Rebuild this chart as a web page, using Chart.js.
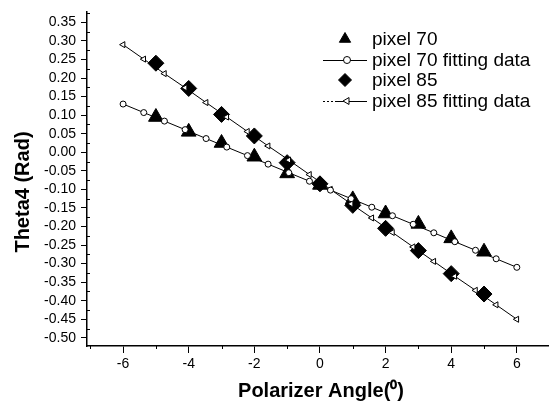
<!DOCTYPE html>
<html>
<head>
<meta charset="utf-8">
<script src="https://cdn.jsdelivr.net/npm/chart.js@4.4.0/dist/chart.umd.min.js"></script>
<style>
  html, body { margin: 0; padding: 0; background: #fff; }
</style>
</head>
<body>
<canvas id="theta-chart" width="549" height="403"></canvas>
<script>
// measured points (polarizer angle in degrees)
var measuredAngles = [-5, -4, -3, -2, -1, 0, 1, 2, 3, 4, 5];
var pixel70 = [0.095, 0.055, 0.025, -0.012, -0.057, -0.088, -0.127, -0.165, -0.193, -0.232, -0.268];
var pixel85 = [0.240, 0.172, 0.102, 0.044, -0.028, -0.085, -0.143, -0.205, -0.265, -0.327, -0.382];

// fitting curves
var fitAngles = [-6, -5.37, -4.74, -4.11, -3.47, -2.84, -2.21, -1.58, -0.95, -0.32,
                 0.32, 0.95, 1.58, 2.21, 2.84, 3.47, 4.11, 4.74, 5.37, 6];
var pixel70Fit = [0.130, 0.107, 0.084, 0.061, 0.037, 0.014, -0.009, -0.032, -0.055, -0.078,
                  -0.102, -0.125, -0.148, -0.171, -0.194, -0.217, -0.241, -0.264, -0.287, -0.310];
var pixel85Fit = [0.290, 0.251, 0.212, 0.174, 0.134, 0.095, 0.056, 0.017, -0.021, -0.060,
                  -0.100, -0.139, -0.177, -0.216, -0.255, -0.294, -0.334, -0.372, -0.411, -0.450];

var xTickValues = [-6, -4, -2, 0, 2, 4, 6];
var yTickValues = [-0.50, -0.45, -0.40, -0.35, -0.30, -0.25, -0.20, -0.15, -0.10, -0.05,
                   0.00, 0.05, 0.10, 0.15, 0.20, 0.25, 0.30, 0.35];

function pairs(xs, ys) {
    return xs.map(function (x, i) { return { x: x, y: ys[i] }; });
}

/* minor ticks, axis titles and the legend box */
var extras = {
    id: 'extras',
    afterDraw: function (chart) {
        var ctx = chart.ctx;
        var area = chart.chartArea;
        var xs = chart.scales.x, ys = chart.scales.y;
        ctx.save();
        ctx.strokeStyle = '#000';
        ctx.lineWidth = 1;
        ctx.beginPath();
        for (var v = -7; v <= 7; v += 2) {
            var px = Math.round(xs.getPixelForValue(v)) + 0.5;
            if (px < area.left || px > area.right) continue;
            ctx.moveTo(px, area.bottom);
            ctx.lineTo(px, area.bottom + 3);
        }
        for (var k = -21; k <= 15; k += 2) {
            var py = Math.round(ys.getPixelForValue(k * 0.025)) + 0.5;
            if (py < area.top || py > area.bottom) continue;
            ctx.moveTo(area.left, py);
            ctx.lineTo(area.left + 3, py);
        }
        ctx.stroke();

        // axis titles
        ctx.fillStyle = '#000';
        ctx.font = 'bold 20px "Liberation Sans", Arial, sans-serif';
        ctx.textAlign = 'center';
        ctx.textBaseline = 'alphabetic';
        ctx.fillText('Polarizer Angle(\u2070)', 321, 397);
        ctx.save();
        ctx.translate(29, 192);
        ctx.rotate(-Math.PI / 2);
        ctx.fillText('Theta4 (Rad)', 0, 0);
        ctx.restore();

        // legend
        var rows = [39, 60, 80, 101];
        var mx = 345;
        ctx.font = '19px "Liberation Sans", Arial, sans-serif';
        ctx.textAlign = 'left';
        ctx.textBaseline = 'middle';
        chart.data.datasets.forEach(function (ds, i) {
            var y = rows[i];
            if (ds.showLine) {
                ctx.strokeStyle = '#000';
                ctx.lineWidth = 1;
                if (i === 3) {
                    // first part of this sample line looks dotted in the original
                    ctx.setLineDash([2, 2]);
                    ctx.beginPath();
                    ctx.moveTo(323, y + 0.5);
                    ctx.lineTo(337, y + 0.5);
                    ctx.stroke();
                    ctx.setLineDash([]);
                    ctx.beginPath();
                    ctx.moveTo(337, y + 0.5);
                } else {
                    ctx.beginPath();
                    ctx.moveTo(323, y + 0.5);
                }
                ctx.lineTo(367, y + 0.5);
                ctx.stroke();
            }
            ctx.fillStyle = ds.pointBackgroundColor;
            ctx.strokeStyle = ds.pointBorderColor;
            ctx.lineWidth = ds.pointBorderWidth;
            Chart.helpers.drawPoint(ctx, {
                pointStyle: ds.pointStyle,
                rotation: ds.pointRotation || 0,
                radius: ds.showLine ? ds.pointRadius + 0.5 : 6.5,
                borderWidth: ds.pointBorderWidth
            }, mx + (ds.showLine ? 2 : 0), y);
            ctx.fillStyle = '#000';
            ctx.fillText(ds.label, 372, y + 1);
        });
        ctx.restore();
    }
};

new Chart(document.getElementById('theta-chart'), {
    type: 'scatter',
    data: {
        datasets: [{
            label: 'pixel 70',
            data: pairs(measuredAngles, pixel70),
            pointStyle: 'triangle',
            pointRadius: 8.5,
            pointBackgroundColor: '#000',
            pointBorderColor: '#000',
            pointBorderWidth: 1,
            showLine: false,
            order: 2
        }, {
            label: 'pixel 70 fitting data',
            data: pairs(fitAngles, pixel70Fit),
            pointStyle: 'circle',
            pointRadius: 3,
            pointBackgroundColor: '#fff',
            pointBorderColor: '#000',
            pointBorderWidth: 1,
            borderColor: '#000',
            borderWidth: 1,
            showLine: true,
            order: 1
        }, {
            label: 'pixel 85',
            data: pairs(measuredAngles, pixel85),
            pointStyle: 'rectRot',
            pointRadius: 8,
            pointBackgroundColor: '#000',
            pointBorderColor: '#000',
            pointBorderWidth: 1,
            showLine: false,
            order: 2
        }, {
            label: 'pixel 85 fitting data',
            data: pairs(fitAngles, pixel85Fit),
            pointStyle: 'triangle',
            pointRotation: -90,
            pointRadius: 3.5,
            pointBackgroundColor: '#fff',
            pointBorderColor: '#000',
            pointBorderWidth: 1,
            borderColor: '#000',
            borderWidth: 1,
            showLine: true,
            order: 1
        }]
    },
    options: {
        responsive: false,
        animation: false,
        layout: { autoPadding: false, padding: { top: 12, right: 1, left: 0, bottom: 0 } },
        plugins: {
            legend: { display: false },
            tooltip: { enabled: false }
        },
        scales: {
            x: {
                type: 'linear',
                min: -7.1,
                max: 6.95,
                afterFit: function (s) {
                    s.height = 57;
                    s.paddingLeft = 0;
                    s.paddingRight = 0;
                },
                afterBuildTicks: function (s) {
                    s.ticks = xTickValues.map(function (v) { return { value: v }; });
                },
                grid: { drawOnChartArea: false, drawTicks: true, tickLength: 7, color: '#000' },
                border: { display: true, color: '#000', width: 1.5 },
                ticks: {
                    color: '#000',
                    padding: 3,
                    maxRotation: 0,
                    autoSkip: false,
                    font: { family: '"Liberation Sans", Arial, sans-serif', size: 14 },
                    callback: function (v) { return String(v); }
                }
            },
            y: {
                type: 'linear',
                min: -0.522,
                max: 0.378,
                afterFit: function (s) {
                    s.width = 87;
                    s.paddingTop = 0;
                    s.paddingBottom = 0;
                },
                afterBuildTicks: function (s) {
                    s.ticks = yTickValues.map(function (v) { return { value: v }; });
                },
                grid: { drawOnChartArea: false, drawTicks: true, tickLength: 6, color: '#000' },
                border: { display: true, color: '#000', width: 1.5 },
                ticks: {
                    color: '#000',
                    padding: 5,
                    autoSkip: false,
                    font: { family: '"Liberation Sans", Arial, sans-serif', size: 14 },
                    callback: function (v) { return (Math.round(v * 100) / 100).toFixed(2); }
                }
            }
        }
    },
    plugins: [extras]
});
</script>
</body>
</html>
